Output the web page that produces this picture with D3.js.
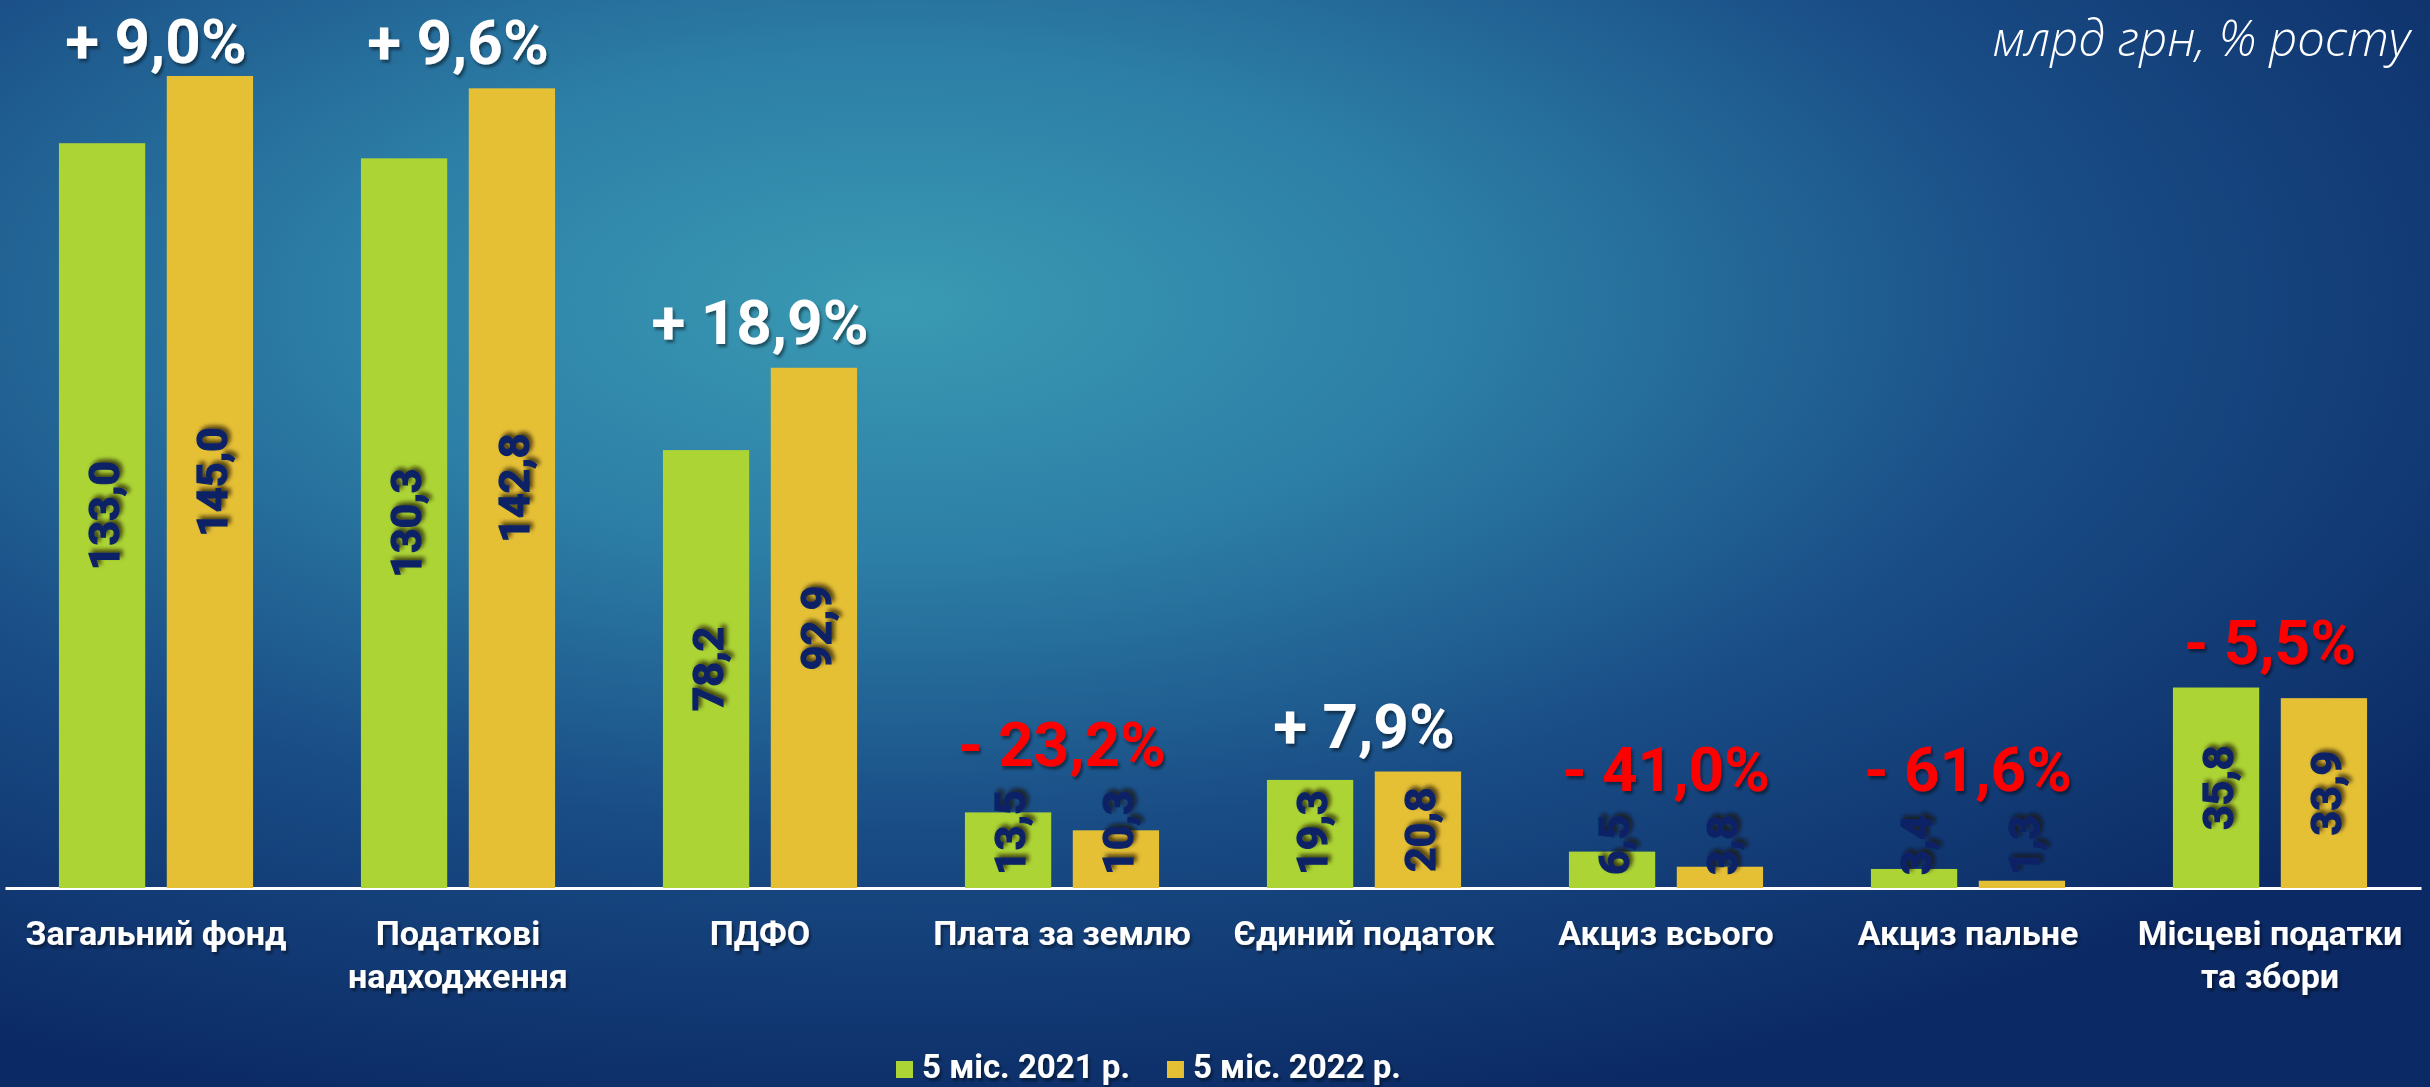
<!DOCTYPE html>
<html>
<head>
<meta charset="utf-8">
<script src="https://cdn.jsdelivr.net/npm/d3@7"></script>
<style>
  html, body { margin: 0; padding: 0; background: #0e2d69; }
  svg { display: block; }
</style>
</head>
<body>
<div id="chart"></div>
<script>
// Chart data
var categories = ['Загальний фонд', 'Податкові\nнадходження', 'ПДФО', 'Плата за землю',
  'Єдиний податок', 'Акциз всього', 'Акциз пальне', 'Місцеві податки\nта збори'];
var series = ['5 міс. 2021 р.', '5 міс. 2022 р.'];
var values2021 = [133.0, 130.3, 78.2, 13.5, 19.3, 6.5, 3.4, 35.8];
var values2022 = [145.0, 142.8, 92.9, 10.3, 20.8, 3.8, 1.3, 33.9];
var growth = [9.0, 9.6, 18.9, -23.2, 7.9, -41.0, -61.6, -5.5];
var unitsLabel = 'млрд грн, % росту';

(function() {
  var w = 2430, h = 1087;
  var colors = ['#acd434', '#e5c035'];
  var labelFont = 'Roboto, "Open Sans", "DejaVu Sans", sans-serif';
  var fmt = function(v) { return v.toFixed(1).replace('.', ','); };

  var svg = d3.select('#chart').append('svg').attr('width', w).attr('height', h);
  var defs = svg.append('defs');

  // Background gradient
  var bg = defs.append('radialGradient').attr('id', 'bg')
    .attr('cx', 0.37).attr('cy', 0.28).attr('r', 0.78);
  bg.append('stop').attr('offset', 0).attr('stop-color', '#3a9ab3');
  bg.append('stop').attr('offset', 0.3).attr('stop-color', '#2c7ea6');
  bg.append('stop').attr('offset', 0.62).attr('stop-color', '#194c85');
  bg.append('stop').attr('offset', 1).attr('stop-color', '#0b2964');
  svg.append('rect').attr('width', w).attr('height', h).attr('fill', 'url(#bg)');

  // Shadows
  defs.append('filter').attr('id', 'shadow').attr('x', '-20%').attr('y', '-20%')
    .attr('width', '140%').attr('height', '140%')
    .append('feDropShadow').attr('dx', 2).attr('dy', 3).attr('stdDeviation', 1.5)
    .attr('flood-color', '#000').attr('flood-opacity', 0.45);
  defs.append('filter').attr('id', 'vshadow').attr('x', '-30%').attr('y', '-30%')
    .attr('width', '160%').attr('height', '160%')
    .append('feDropShadow').attr('dx', 3).attr('dy', -3).attr('stdDeviation', 2.2)
    .attr('flood-color', '#1a1400').attr('flood-opacity', 0.75);

  // Scales
  var x0 = d3.scaleBand().domain(categories).range([5, 2421]).padding(0);
  var x1 = d3.scaleBand().domain(series).range([0, x0.bandwidth()])
    .paddingInner(0.2).paddingOuter(0.5);
  var y = d3.scaleLinear().domain([0, 145]).range([888, 76]);

  var rows = categories.map(function(c, i) {
    return { cat: c, vals: [values2021[i], values2022[i]], g: growth[i] };
  });

  // Axis line and category labels
  var axis = svg.append('g').attr('transform', 'translate(0,' + y(0) + ')')
    .call(d3.axisBottom(x0).tickSize(0).tickSizeOuter(0).tickFormat(''));
  axis.select('.domain').attr('stroke', '#ffffff').attr('stroke-width', 3);
  axis.selectAll('.tick text').remove();

  var catLabels = svg.append('g').attr('filter', 'url(#shadow)');
  rows.forEach(function(r) {
    var t = catLabels.append('text')
      .attr('x', x0(r.cat) + x0.bandwidth() / 2)
      .attr('y', y(0) + 57)
      .attr('text-anchor', 'middle')
      .attr('fill', '#ffffff')
      .attr('font-family', labelFont)
      .attr('font-weight', 700)
      .attr('font-size', 34);
    r.cat.split('\n').forEach(function(line, k) {
      t.append('tspan').attr('x', x0(r.cat) + x0.bandwidth() / 2)
        .attr('dy', k === 0 ? 0 : 43).text(line);
    });
  });

  // Bars
  var groups = svg.append('g').selectAll('g.grp').data(rows).enter().append('g')
    .attr('class', 'grp')
    .attr('transform', function(d) { return 'translate(' + x0(d.cat) + ',0)'; });

  groups.selectAll('rect').data(function(d) {
    return d.vals.map(function(v, k) { return { s: series[k], v: v, k: k }; });
  }).enter().append('rect')
    .attr('x', function(d) { return x1(d.s); })
    .attr('y', function(d) { return y(d.v); })
    .attr('width', x1.bandwidth())
    .attr('height', function(d) { return y(0) - y(d.v); })
    .attr('fill', function(d) { return colors[d.k]; });

  // Value labels (rotated)
  var tops = rows.map(function(r) { return d3.min(r.vals, function(v) { return y(v); }); });
  groups.each(function(r, i) {
    var g = d3.select(this);
    r.vals.forEach(function(v, k) {
      var cx = x1(series[k]) + x1.bandwidth() / 2;
      var holder = g.append('g').attr('filter', 'url(#vshadow)');
      var t = holder.append('text')
        .attr('text-anchor', 'middle')
        .attr('dominant-baseline', 'central')
        .attr('fill', '#0a2466')
        .attr('stroke', '#0a2466')
        .attr('stroke-width', 1.2)
        .attr('font-family', labelFont)
        .attr('font-weight', 700)
        .attr('font-size', 43)
        .text(fmt(v));
      var len = t.node().getComputedTextLength();
      var cy = Math.min((y(v) + y(0)) / 2, y(0) - 13 - len / 2);
      t.attr('transform', 'translate(' + (cx + 2) + ',' + cy + ') rotate(-90)');
      tops[i] = Math.min(tops[i], cy - len / 2);
    });
  });

  // Growth labels
  var pct = svg.append('g').attr('filter', 'url(#shadow)');
  rows.forEach(function(r, i) {
    pct.append('text')
      .attr('x', x0(r.cat) + x0.bandwidth() / 2)
      .attr('y', Math.max(tops[i] - 24, 63))
      .attr('text-anchor', 'middle')
      .attr('fill', r.g >= 0 ? '#ffffff' : '#ff0000')
      .attr('font-family', labelFont)
      .attr('font-weight', 700)
      .attr('font-size', 62)
      .text((r.g >= 0 ? '+ ' : '- ') + fmt(Math.abs(r.g)) + '%');
  });

  // Units
  svg.append('text')
    .attr('x', 2410).attr('y', 56)
    .attr('text-anchor', 'end')
    .attr('fill', '#ffffff')
    .attr('font-family', '"Open Sans", sans-serif')
    .attr('font-style', 'italic')
    .attr('font-weight', 300)
    .attr('font-size', 49)
    .text(unitsLabel);

  // Legend
  var legend = svg.append('g').attr('transform', 'translate(896,1078)');
  var lx = 0;
  series.forEach(function(s, k) {
    legend.append('rect').attr('x', lx).attr('y', -17)
      .attr('width', 17).attr('height', 17).attr('fill', colors[k]);
    var t = legend.append('text').attr('x', lx + 26).attr('y', 0)
      .attr('fill', '#ffffff')
      .attr('font-family', labelFont)
      .attr('font-weight', 700)
      .attr('font-size', 33)
      .attr('filter', 'url(#shadow)')
      .text(s);
    lx += 26 + t.node().getComputedTextLength() + 37;
  });
})();
</script>
</body>
</html>
